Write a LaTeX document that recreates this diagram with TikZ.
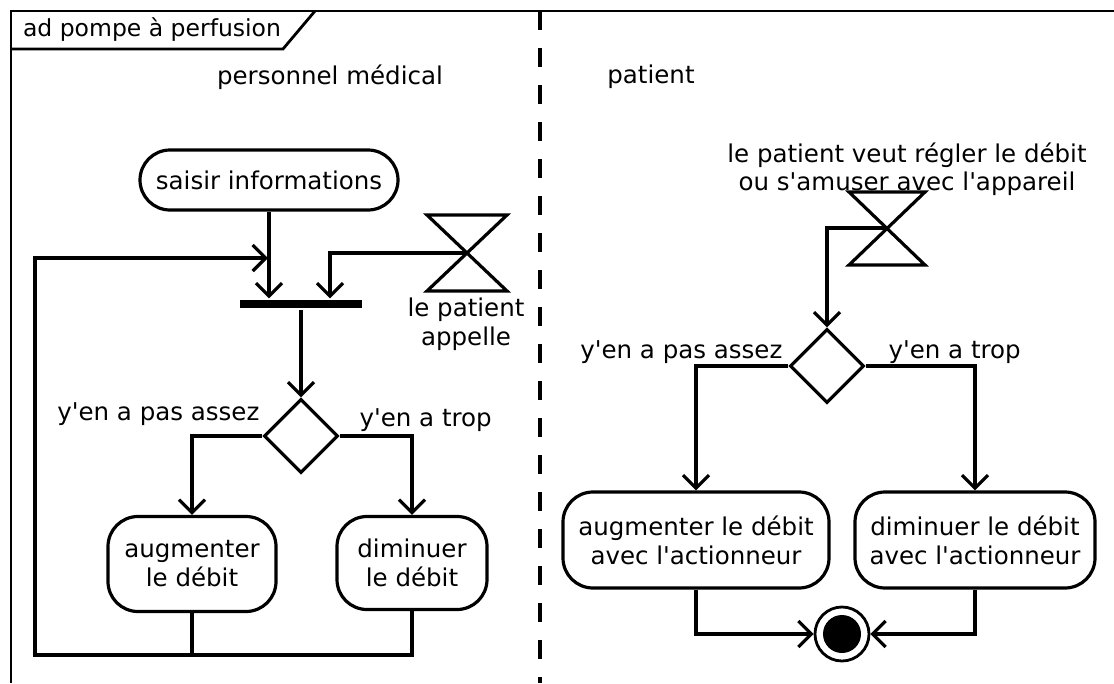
\documentclass[tikz,border=0pt]{standalone}
\usepackage{fontspec}
\setmainfont{DejaVu Sans}
\usetikzlibrary{arrows.meta,shapes.geometric,calc,positioning}
\newcommand{\apo}{\textquotesingle}

\begin{document}
\begin{tikzpicture}[x=1pt,y=-1pt,line width=3.2pt,font=\fontsize{24.5}{29}\selectfont,
   action/.style={draw,rectangle,rounded corners=30pt,align=center,inner sep=0pt},
   decision/.style={draw,diamond,minimum width=74pt,minimum height=74pt,inner sep=0pt},
   garde/.style={inner sep=0pt},
   fleche/.style={-{Straight Barb[length=13pt,width=26pt]}}]
   \useasboundingbox (0,0) rectangle (1114,683);
   \draw[line width=2.8pt] (11,683) -- (11,11) -- (1114,11);
   \draw[line width=2.8pt] (11,49) -- (283,49) -- (315,11);
   \node[garde,font=\fontsize{23.5}{28}\selectfont] (titre) at (152,30) {ad pompe à perfusion};
   \draw[line width=3.4pt,dash pattern=on 19pt off 18pt] (540,11) -- (540,683);
   \node[garde] (pm) at (330,77) {personnel médical};
   \node[garde] (pat) at (651,77) {patient};

   \node[action,minimum width=258pt,minimum height=60pt] (saisir) at (269,180) {saisir informations};
   \node[fill,minimum width=122pt,minimum height=8pt,inner sep=0pt] (fork) at (301,304) {};
   \coordinate (appel) at (467,253);
   \draw[line join=miter] ($(appel)+(-40,-38)$) -- ($(appel)+(40,-38)$) -- ($(appel)+(-40,38)$) -- ($(appel)+(40,38)$) -- cycle;
   \node[garde,align=center] (appel_t) at (466,324) {le patient\\appelle};
   \node[decision] (d_1) at (301,436) {};
   \node[garde,anchor=east] (moins_1) at (261,414) {y\apo en a pas assez};
   \node[garde,anchor=west] (plus_1) at (358,420) {y\apo en a trop};
   \node[action,minimum width=168pt,minimum height=95pt] (augm) at (192,564) {augmenter\\le débit};
   \node[action,minimum width=150pt,minimum height=93pt] (dimi) at (412,563) {diminuer\\le débit};
   \coordinate (boucle) at (35,655);
   \coordinate (retour) at (268,258);

   \coordinate (envie) at (887,228);
   \node[garde,align=center] (envie_t) at (907,169) {le patient veut régler le débit\\[-1pt]ou s\apo amuser avec l\apo appareil};
   \draw[line join=miter] ($(envie)+(-38,-36)$) -- ($(envie)+(38,-36)$) -- ($(envie)+(-38,37)$) -- ($(envie)+(38,37)$) -- cycle;
   \node[decision] (d_2) at (827,366) {};
   \node[garde,anchor=east] (moins_2) at (784,352) {y\apo en a pas assez};
   \node[garde,anchor=west] (plus_2) at (887,352) {y\apo en a trop};
   \node[action,minimum width=266pt,minimum height=96pt] (augm2) at (696,540) {augmenter le débit\\avec l\apo actionneur};
   \node[action,minimum width=240pt,minimum height=96pt] (dimi2) at (975,540) {diminuer le débit\\avec l\apo actionneur};
   \node[draw,circle,minimum size=54pt,inner sep=0pt,line width=2.8pt] (fin) at (842,634) {};
   \fill (fin) circle (19pt);

   \draw[fleche] (saisir) -- (saisir.south |- fork.north);
   \draw[fleche] (appel) -| ($(fork.north)+(29,0)$);
   \draw[fleche] (fork) -- (d_1);
   \draw[fleche] (d_1.west) -| (augm.north);
   \draw[fleche] (d_1.east) -| (dimi.north);
   \draw (augm.south) -- (augm.south |- boucle);
   \draw[fleche] (dimi.south) |- (boucle) |- (retour);

   \draw[fleche] (envie) -| (d_2);
   \draw[fleche] (d_2.west) -| (augm2.north);
   \draw[fleche] (d_2.east) -| (dimi2.north);
   \draw[fleche] (augm2.south) |- (fin);
   \draw[fleche] (dimi2.south) |- (fin);
\end{tikzpicture}
\end{document}
